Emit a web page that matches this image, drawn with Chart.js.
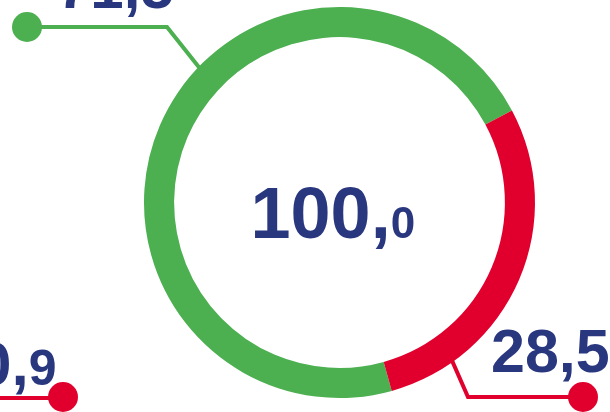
<!DOCTYPE html>
<html>
<head>
<meta charset="utf-8">
<script src="https://cdn.jsdelivr.net/npm/chart.js@4"></script>
<style>
  html, body { margin: 0; padding: 0; background: #fff; overflow: hidden; }
  canvas { display: block; }
</style>
</head>
<body>
<canvas id="chart" width="610" height="412"></canvas>
<script>
const categories = ["Anteil A", "Anteil B"];
const values = [71.5, 28.5];
const valueLabels = ["71,5", "28,5"];
const totalLabel = "100,0";
const sideLabel = "0,9";

const GREEN = "#4caf50";
const RED = "#e1002d";
const NAVY = "#29377f";
const FONT = '"Liberation Sans", Arial, sans-serif';

// leader line layout per slice (angle measured clockwise from top)
const leaders = [
  { angle: 313.5, elbow: [167, 27], dot: [27, 27], text: [57, 8], size: 60 },
  { angle: 144, elbow: [468, 397], dot: [583, 397], text: [491, 372], size: 61 }
];

function splitLabel(s) {
  const i = s.indexOf(",");
  return [s.slice(0, i), s.slice(i + 1)];
}

// integer part, comma, decimal part (decimal may be smaller)
function drawValue(ctx, label, x, y, big, small) {
  const [a, b] = splitLabel(label);
  ctx.fillStyle = NAVY;
  ctx.textBaseline = "alphabetic";
  ctx.textAlign = "left";
  ctx.font = "bold " + big + "px " + FONT;
  ctx.fillText(a + ",", x, y);
  const cx = x + ctx.measureText(a + ",").width;
  ctx.font = "bold " + small + "px " + FONT;
  ctx.fillText(b, cx, y);
}

function pointAt(arc, deg, r) {
  const a = (deg - 90) * Math.PI / 180;
  return [arc.x + r * Math.cos(a), arc.y + r * Math.sin(a)];
}

const labelPlugin = {
  id: "labels",
  beforeDatasetsDraw(chart) {
    const ctx = chart.ctx;
    const arcs = chart.getDatasetMeta(0).data;
    ctx.save();
    ctx.lineWidth = 4;
    leaders.forEach((l, i) => {
      const arc = arcs[i];
      const p = pointAt(arc, l.angle, arc.outerRadius - 10);
      ctx.strokeStyle = i === 0 ? GREEN : RED;
      ctx.beginPath();
      ctx.moveTo(p[0], p[1]);
      ctx.lineTo(l.elbow[0], l.elbow[1]);
      ctx.lineTo(l.dot[0], l.dot[1]);
      ctx.stroke();
    });
    // line of the neighbouring chart at the bottom left
    ctx.strokeStyle = RED;
    ctx.beginPath();
    ctx.moveTo(0, 398);
    ctx.lineTo(63, 398);
    ctx.stroke();
    ctx.restore();
  },
  afterDraw(chart) {
    const ctx = chart.ctx;
    const arc = chart.getDatasetMeta(0).data[0];
    ctx.save();
    leaders.forEach((l, i) => {
      ctx.fillStyle = i === 0 ? GREEN : RED;
      ctx.beginPath();
      ctx.arc(l.dot[0], l.dot[1], 15, 0, Math.PI * 2);
      ctx.fill();
      drawValue(ctx, valueLabels[i], l.text[0], l.text[1], l.size, l.size);
    });
    ctx.fillStyle = RED;
    ctx.beginPath();
    ctx.arc(63, 397, 15, 0, Math.PI * 2);
    ctx.fill();
    drawValue(ctx, sideLabel, -23, 385, 62, 50);
    drawValue(ctx, totalLabel, arc.x - 89, arc.y + 35, 72, 44);
    ctx.restore();
  }
};

new Chart(document.getElementById("chart"), {
  type: "doughnut",
  data: {
    labels: categories,
    datasets: [{
      data: values,
      backgroundColor: [GREEN, RED],
      borderWidth: 0,
      hoverOffset: 0
    }]
  },
  options: {
    responsive: false,
    animation: false,
    rotation: 164.5,
    cutout: "84.6%",
    layout: { padding: { left: 144, right: 75, top: 7, bottom: 14 } },
    plugins: { legend: { display: false }, tooltip: { enabled: false } },
    events: []
  },
  plugins: [labelPlugin]
});
</script>
</body>
</html>
